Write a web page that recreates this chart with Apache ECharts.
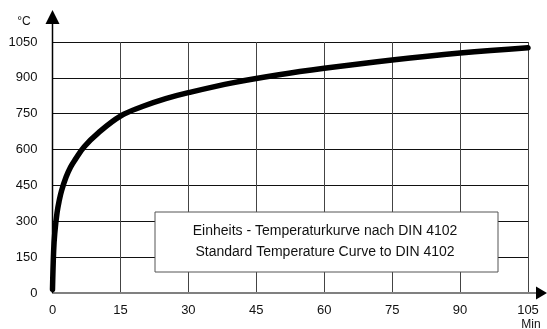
<!DOCTYPE html>
<html>
<head>
<meta charset="utf-8">
<script src="https://cdn.jsdelivr.net/npm/echarts@6/dist/echarts.min.js"></script>
<style>
  html, body { margin: 0; padding: 0; background: #fff; }
  #main { width: 547px; height: 329px; }
</style>
</head>
<body>
<div id="main"></div>
<script>
// Einheits-Temperaturkurve
var minutes = [0, 0.25, 0.5, 1, 1.5, 2, 3, 4, 5, 7, 10, 15, 20, 25, 30, 40, 50, 60, 75, 90, 105];
var temps = [15, 175, 250, 335, 388, 428, 485, 527, 558, 612, 668, 740, 781, 813, 838, 880, 913, 940, 975, 1004, 1026];
var legendLines = ['Einheits - Temperaturkurve nach DIN 4102', 'Standard Temperature Curve to DIN 4102'];

var font = '"Liberation Sans", Arial, sans-serif';
var chart = echarts.init(document.getElementById('main'));

var data = minutes.map(function (m, i) { return [m, temps[i]]; });

chart.setOption({
    animation: false,
    backgroundColor: '#fff',
    grid: { left: 52.5, right: 19, top: 42, bottom: 36 },
    xAxis: {
        type: 'value',
        min: 0, max: 105, interval: 15,
        axisLine: { show: false },
        axisTick: { show: false },
        axisLabel: { color: '#111', fontFamily: font, fontSize: 13, margin: 11 },
        splitLine: { lineStyle: { color: '#444', width: 1 } }
    },
    yAxis: {
        type: 'value',
        min: 0, max: 1050, interval: 150,
        axisLine: { show: false },
        axisTick: { show: false },
        axisLabel: { color: '#111', fontFamily: font, fontSize: 13, margin: 15,
            formatter: function (v) { return String(v); } },
        splitLine: { lineStyle: { color: '#111', width: 1 } }
    },
    series: [{
        type: 'line',
        data: data,
        smooth: 0.4,
        showSymbol: false,
        lineStyle: { color: '#000', width: 5.5, cap: 'round' },
        z: 5
    }]
});

// Achsenpfeile, Beschriftungen und Legendenkasten
var o = chart.convertToPixel({ gridIndex: 0 }, [0, 0]);
var yTop = chart.convertToPixel({ gridIndex: 0 }, [0, 1050]);
var xEnd = chart.convertToPixel({ gridIndex: 0 }, [105, 0]);

chart.setOption({
    graphic: [
        { type: 'line', z: 10, shape: { x1: o[0], y1: o[1], x2: xEnd[0] + 10, y2: o[1] },
          style: { stroke: '#808080', lineWidth: 2 } },
        { type: 'polygon', z: 11, shape: { points: [[547, o[1]], [536, o[1] - 6.5], [536, o[1] + 6.5]] },
          style: { fill: '#000' } },
        { type: 'line', z: 10, shape: { x1: o[0], y1: o[1], x2: o[0], y2: yTop[1] - 20 },
          style: { stroke: '#000', lineWidth: 1.5 } },
        { type: 'polygon', z: 11, shape: { points: [[o[0], 10], [o[0] - 7, 24], [o[0] + 7, 24]] },
          style: { fill: '#000' } },
        { type: 'text', z: 11, x: 24, y: 22,
          style: { text: '°C', font: '12px ' + font, fill: '#111', align: 'center', verticalAlign: 'middle' } },
        { type: 'text', z: 11, x: xEnd[0] + 3, y: 325,
          style: { text: 'Min', font: '12px ' + font, fill: '#111', align: 'center', verticalAlign: 'middle' } },
        { type: 'rect', z: 12, shape: { x: 155, y: 212, width: 343, height: 60 },
          style: { fill: '#fff', stroke: '#555', lineWidth: 1 } },
        { type: 'text', z: 13, x: 325, y: 231,
          style: { text: legendLines[0], font: '14px ' + font, fill: '#111', align: 'center', verticalAlign: 'middle' } },
        { type: 'text', z: 13, x: 325, y: 252,
          style: { text: legendLines[1], font: '14px ' + font, fill: '#111', align: 'center', verticalAlign: 'middle' } }
    ]
});
</script>
</body>
</html>
